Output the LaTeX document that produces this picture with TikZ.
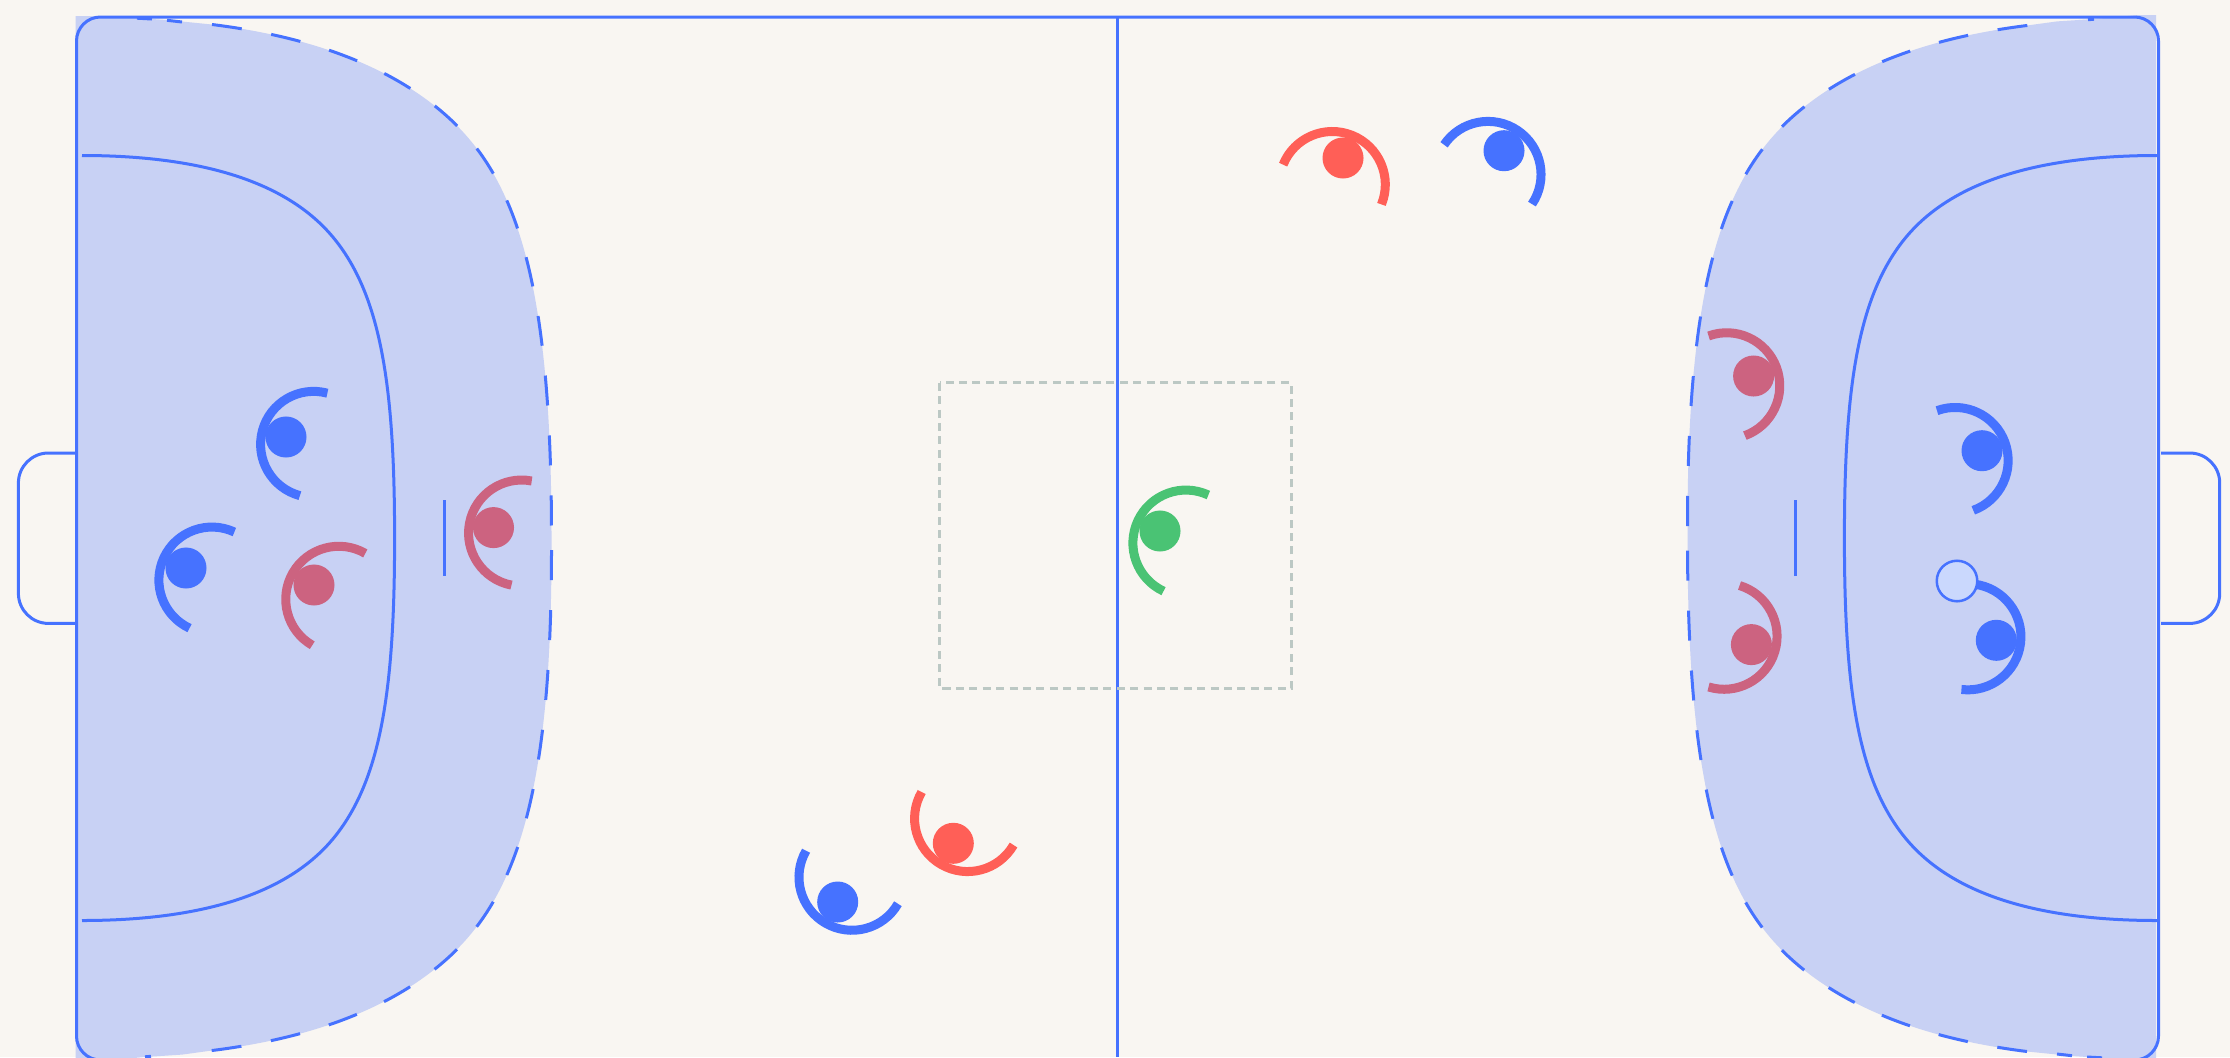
\documentclass[tikz,border=0pt]{standalone}
\usepackage{tikz}
\usetikzlibrary{positioning}

\definecolor{courtbg}{HTML}{F9F6F2}
\definecolor{zonecol}{HTML}{C8D1F4}
\definecolor{linecol}{HTML}{4672FF}
\definecolor{pinkcol}{HTML}{CC6380}
\definecolor{redcol}{HTML}{FF5F57}
\definecolor{greencol}{HTML}{4AC374}
\definecolor{greycol}{HTML}{BCC8C4}
\definecolor{ballcol}{HTML}{CAD8FD}

\tikzset{
  courtline/.style={draw=linecol, line width=0.03cm},
  zonedash/.style={courtline, dash pattern=on 0.3cm off 0.3cm},
  boxdash/.style={draw=greycol, line width=0.03cm, dash pattern=on 0.08cm off 0.054cm},
  playerdot/.style={circle, inner sep=0pt, minimum size=0.41cm},
  playerarc/.style={line width=0.09cm},
  ballnode/.style={circle, inner sep=0pt, minimum size=0.405cm, fill=ballcol, draw=linecol, line width=0.025cm}
}

\newcommand{\zonetop}[1]{#1 (212,24.5) .. controls (280,33) and (379,54) .. (449,118) .. controls (519,182) and (551.5,290) .. (551.5,537)}
\newcommand{\zonebot}[1]{#1 (551.5,550) .. controls (551.5,785) and (519,893) .. (449,957) .. controls (379,1021) and (280,1042) .. (212,1050.5) -- (182,1054.6)}

\newcommand{\zonearea}[1]{
  \fill[zonecol] (#1,16) -- (130,16) -- (137,18) -- (167,20) \zonetop{--} \zonebot{--} -- (145,1057) -- (100,1061) -- (#1,1061) -- cycle;
  \draw[zonedash] \zonetop{};
  \draw[zonedash] \zonebot{};
  \draw[courtline] (137,18.2) -- (152,19) (167,20.3) -- (182,22) (145,1056.8) -- (151,1056.3);
  \draw[courtline] (82,155.5) .. controls (190,155.5) and (282,177) .. (332,236) .. controls (382,295) and (394.6,390) .. (394.6,538) .. controls (394.6,686) and (382,781) .. (332,840) .. controls (282,899) and (190,920.5) .. (82,920.5);
  \draw[courtline] (444,500) -- (444,576.4);
}

\newcommand{\player}[5]{
  \node[playerdot, fill=#5] (#1) at (#2,#3) {};
  \draw[playerarc, draw=#5] ([shift={(#4:-0.286cm)}]#1.center) ++ (#4-90:0.53cm) arc[start angle=#4-90, end angle=#4+90, radius=0.53cm];
}

\begin{document}
\begin{tikzpicture}[x=0.01cm, y=-0.01cm]
\useasboundingbox (0,0) rectangle (2230,1057);
\fill[courtbg] (0,0) rectangle (2230,1057);

% zones
\zonearea{75.5}
\begin{scope}[shift={(2239,1076)}, rotate=180]
\zonearea{83}
\end{scope}

% court
\draw[courtline, rounded corners=0.24cm] (76.5,17) rectangle (2158.5,1060);
\draw[courtline] (1117.3,17) -- (1117.3,1057);
\draw[courtline, rounded corners=0.3cm] (75,453) -- (18.4,453) -- (18.4,623.4) -- (75,623.4);
\draw[courtline, rounded corners=0.3cm] (2161,453) -- (2219.7,453) -- (2219.7,623.4) -- (2161,623.4);
\draw[boxdash] (939.7,382.7) rectangle (1291.3,688.3);

% players
\player{keeperA}{1160}{531}{155}{greencol}
\player{blueA}{286}{437}{165}{linecol}
\player{blueB}{186}{568}{155}{linecol}
\player{pinkA}{314}{585}{150}{pinkcol}
\player{pinkB}{493.5}{527.6}{169}{pinkcol}
\player{redA}{1343}{158}{68}{redcol}
\player{blueC}{1504}{150.7}{56}{linecol}
\player{redB}{953.3}{843.3}{240}{redcol}
\player{blueD}{837.7}{902}{240}{linecol}
\player{pinkC}{1753.6}{376}{20}{pinkcol}
\player{blueE}{1982}{450.7}{20}{linecol}
\player{pinkD}{1751.4}{644.6}{-17}{pinkcol}
\player{blueF}{1996.3}{640.3}{-7}{linecol}

\node[ballnode] (ball) at (1957,581) {};
\end{tikzpicture}
\end{document}
